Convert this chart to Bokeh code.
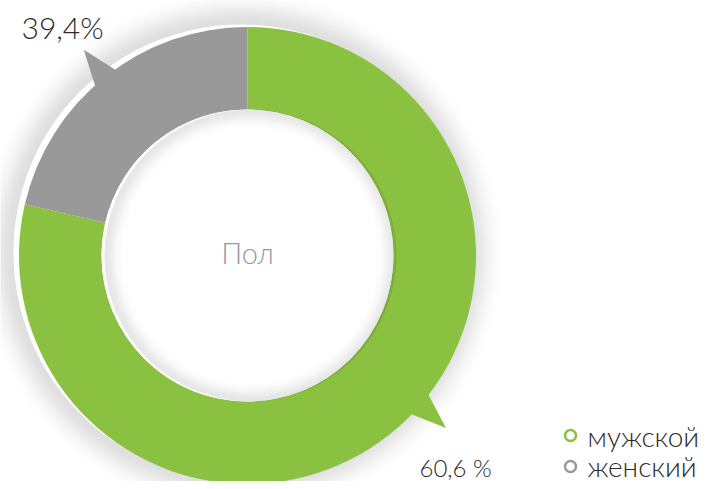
import numpy as np
from bokeh.plotting import figure
from bokeh.models import Range1d, ColumnDataSource
from bokeh.core.properties import value
from bokeh.embed import file_html
from bokeh.resources import INLINE

# ---- data ----
categories = ["мужской", "женский"]
drawn_share = [78.6, 21.4]          # share of the ring as drawn (percent)
label_texts = ["60,6 %", "39,4%"]
colors = ["#8bc141", "#999999"]
callout_deg = [131.0, 321.5]        # clockwise from 12 o'clock
center_title = "Пол"

FONT = value("DejaVu Sans ExtraLight, Lato Light, Open Sans, sans-serif")

W, H = 713, 481
p = figure(width=W, height=H, output_backend="svg", toolbar_location=None,
           x_range=Range1d(0, W), y_range=Range1d(489 - H, 489),
           min_border=0, border_fill_color="white", background_fill_color="white")
p.axis.visible = False
p.grid.visible = False
p.outline_line_color = None

cx, cy = 247.0, 234.0
R_OUT, R_IN = 228.0, 146.0

# outer soft shadow (slightly offset to the upper left)
for d in range(1, 46):
    a = 0.13 * np.exp(-((d - 1) / 19.0) ** 2)
    p.annulus(x=cx - 6, y=cy + 3, inner_radius=R_OUT + d - 1.0, outer_radius=R_OUT + d,
              fill_color="black", fill_alpha=a, line_color=None)

# wedges
fr = np.array(drawn_share) / sum(drawn_share)
ends = np.cumsum(fr)
starts = ends - fr
src = ColumnDataSource(dict(
    start=np.pi / 2 - 2 * np.pi * starts,
    end=np.pi / 2 - 2 * np.pi * ends,
    color=colors,
))
p.annular_wedge(x=cx, y=cy, inner_radius=R_IN, outer_radius=R_OUT + 0.5,
                start_angle="start", end_angle="end", direction="clock",
                fill_color="color", line_color=None, source=src)

# inner shadow in hole
p.circle(x=cx, y=cy, radius=R_IN, fill_color="white", line_color=None)
for d in range(1, 30):
    a = 0.10 * np.exp(-((d - 1) / 11.0) ** 2)
    p.annulus(x=cx + 3, y=cy, inner_radius=R_IN - d, outer_radius=R_IN - d + 1.0,
              fill_color="black", fill_alpha=a, line_color=None)

# callout triangles
def pol(theta_deg, r):
    t = np.radians(theta_deg)
    return cx + r * np.sin(t), cy + r * np.cos(t)

xs, ys = [], []
for ang in callout_deg:
    b1 = pol(ang - 3.8, R_OUT - 3)
    b2 = pol(ang + 3.4, R_OUT - 3)
    tip = pol(ang, 263)
    xs.append([b1[0], tip[0], b2[0]])
    ys.append([b1[1], tip[1], b2[1]])
p.patches(xs=xs, ys=ys, fill_color=colors, line_color=None)

# labels
p.text(x=[419], y=[22], text=[label_texts[0]], text_font=FONT, text_font_size="24px",
       text_color="#2b2b2b", text_baseline="middle", text_align="left")
p.text(x=[21], y=[463], text=[label_texts[1]], text_font=FONT, text_font_size="30px",
       text_color="#2b2b2b", text_baseline="middle", text_align="left")
p.text(x=[cx], y=[237.5], text=[center_title], text_font=FONT, text_font_size="29px",
       text_color="#9a9a9a", text_baseline="middle", text_align="center")

# legend
leg_y = [54, 23]
p.scatter(x=[570, 570], y=leg_y, size=11, marker="circle", fill_color="white",
          line_color=colors, line_width=2.5)
p.text(x=[587, 587], y=[54, 24], text=categories, text_font=FONT, text_font_size="28px",
       text_color="#2b2b2b", text_baseline="middle", text_align="left")

open("out.html", "w").write(file_html(p, INLINE))
